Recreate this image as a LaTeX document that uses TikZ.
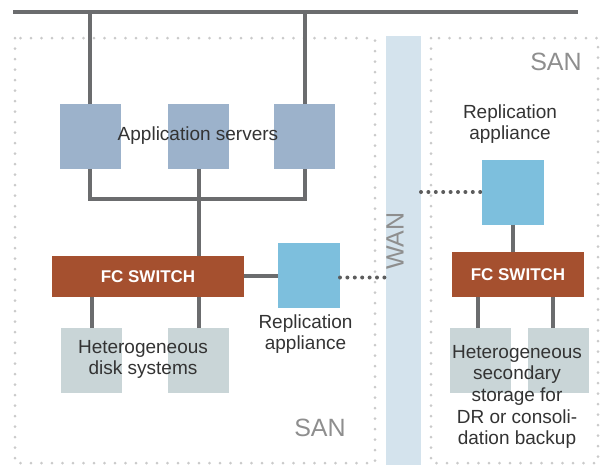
\documentclass[tikz,border=0pt]{standalone}
\usepackage{fontspec}
\setmainfont{Liberation Sans}
\definecolor{srvblue}{HTML}{9CB2CB}
\definecolor{repblue}{HTML}{7DBFDD}
\definecolor{diskgrey}{HTML}{C9D5D7}
\definecolor{switchred}{HTML}{A5502F}
\definecolor{wanblue}{HTML}{D4E3ED}
\definecolor{linegrey}{HTML}{6B6C6E}
\definecolor{bordergrey}{HTML}{CACACA}
\definecolor{labelgrey}{HTML}{333333}
\definecolor{sangrey}{HTML}{8E8E8E}
\begin{document}
\begin{tikzpicture}[x=0.5pt, y=-0.5pt,
       every node/.style={inner sep=0pt, outer sep=0pt},
       server/.style={fill=srvblue, minimum width=30.5pt, minimum height=32.5pt},
       appliance/.style={fill=repblue, minimum width=31pt, minimum height=32.5pt},
       disk/.style={fill=diskgrey, minimum width=30.5pt, minimum height=32.5pt},
       fcswitch/.style={fill=switchred, text=white, font=\bfseries\fontsize{8.5}{10}\selectfont},
       caption/.style={text=labelgrey, align=center, font=\fontsize{9.5}{10.8}\selectfont},
       sanlabel/.style={text=sangrey, font=\fontsize{12.5}{14}\selectfont},
       cable/.style={draw=linegrey, line width=2pt},
       wanlink/.style={draw=labelgrey!80, line width=2pt, line cap=round, dash pattern=on 0pt off 3.7pt},
       sanbox/.style={draw=bordergrey, line width=1.5pt, line cap=round, dash pattern=on 0pt off 5.25pt}]
\useasboundingbox (0,0) rectangle (601,467);

\draw[sanbox] (15,38) rectangle (375,463);
\draw[sanbox] (431,38) rectangle (598,463);
\node[fill=wanblue, minimum width=17.5pt, minimum height=214.5pt] (wan) at (403.5,250.5) {};
\node[sanlabel, rotate=90] (wantext) at (395,241) {WAN};
\node[sanlabel] (sanL) at (320,428) {SAN};
\node[sanlabel] (sanR) at (556,62) {SAN};

\coordinate (busL) at (13,12);
\coordinate (busR) at (578,12);
\coordinate (hub) at (198.5,199);

\node[server] (srvA) at (90,136.5) {};
\node[server] (srvB) at (198.5,136.5) {};
\node[server] (srvC) at (304.5,136.5) {};
\node[caption] (srvtext) at (198,136) {Application servers};

\node[fcswitch, minimum width=96pt, minimum height=20.5pt] (swL) at (148,276.5) {FC SWITCH};
\node[appliance] (repL) at (309,275.5) {};
\node[caption] (repLtext) at (305.5,334) {Replication\\appliance};
\node[disk] (dskA) at (91.5,360.5) {};
\node[disk] (dskB) at (198.5,360.5) {};
\node[caption] (dsktext) at (143,359.5) {Heterogeneous\\disk systems};

\node[caption] (repRtext) at (510,124) {Replication\\appliance};
\node[appliance] (repR) at (512.5,192) {};
\node[fcswitch, minimum width=66pt, minimum height=22.5pt] (swR) at (518,274.5) {FC SWITCH};
\node[disk] (dskRA) at (480.5,360.5) {};
\node[disk] (dskRB) at (558,360.5) {};
\node[caption] (dskRtext) at (517,397) {Heterogeneous\\secondary\\storage for\\DR or consoli-\\dation backup};

\draw[cable] (busL) -- (busR);
\draw[cable] (srvA.north) -- (srvA.north |- busL);
\draw[cable] (srvC.north) -- (srvC.north |- busL);
\draw[cable] (srvA.south) |- (hub) -| (srvC.south);
\draw[cable] (srvB.south) -- (srvB.south |- swL.north);
\draw[cable] (swL.east |- repL.west) -- (repL.west);
\draw[cable] (dskA.north) -- (dskA.north |- swL.south);
\draw[cable] (dskB.north) -- (dskB.north |- swL.south);
\draw[wanlink] ([yshift=-1pt]repL.east) -- ([yshift=-1pt]repL.east -| wan.west);
\draw[wanlink] (wan.east |- repR.west) -- (repR.west);
\draw[cable] (repR.south) -- (repR.south |- swR.north);
\draw[cable] ([xshift=-1.25pt]dskRA.north) -- ([xshift=-1.25pt]dskRA.north |- swR.south);
\draw[cable] ([xshift=-2.5pt]dskRB.north) -- ([xshift=-2.5pt]dskRB.north |- swR.south);
\end{tikzpicture}
\end{document}
